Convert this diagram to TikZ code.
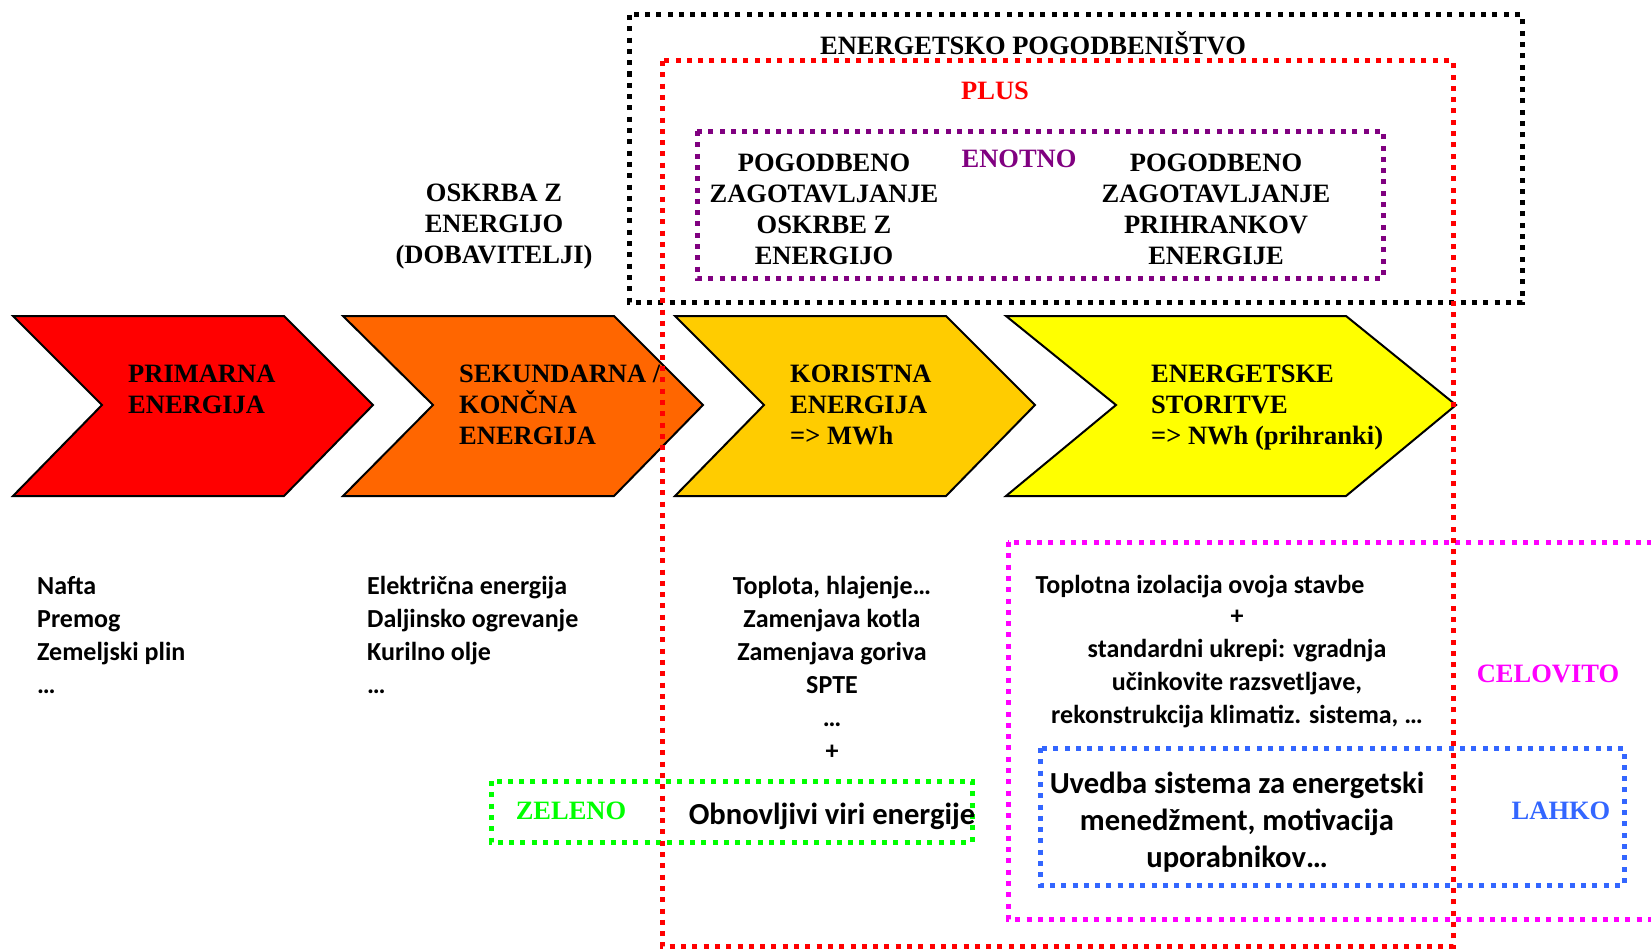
\documentclass[tikz,border=0pt]{standalone}
\usepackage{fontspec}
\setmainfont{Liberation Serif}
\newfontfamily\calfont{Carlito}
\usetikzlibrary{positioning}
\definecolor{chevred}{HTML}{FF0000}
\definecolor{chevorange}{HTML}{FF6600}
\definecolor{chevgold}{HTML}{FFCC00}
\definecolor{chevyellow}{HTML}{FFFF00}
\definecolor{boxpurple}{HTML}{800080}
\definecolor{boxgreen}{HTML}{00FF00}
\definecolor{boxmagenta}{HTML}{FF00FF}
\definecolor{boxblue}{HTML}{3366FF}

\begin{document}
\begin{tikzpicture}[x=1pt,y=-1pt,
  every node/.style={inner sep=0pt},
  chevron/.style={draw=black,line width=2pt,line join=miter},
  dotbox/.style={line width=5pt,dash pattern=on 5pt off 6.3pt},
  headtxt/.style={font=\fontsize{26.5}{31}\selectfont\bfseries,align=center},
  chevtxt/.style={font=\fontsize{26.5}{31}\selectfont\bfseries,align=left,anchor=west},
  listtxt/.style={font=\calfont\fontsize{26}{33}\selectfont\bfseries,align=left,anchor=north west},
  midtxt/.style={font=\calfont\fontsize{26}{33}\selectfont\bfseries,align=center},
  bigtxt/.style={font=\calfont\fontsize{30.6}{37}\selectfont\bfseries,align=center}]
\useasboundingbox (0,0) rectangle (1651,950);
\clip (0,0) rectangle (1651,950);

% chevrons
\filldraw[chevron,fill=chevred] (13,316) -- (284,316) -- (373,405) -- (284,496) -- (13,496) -- (102,405) -- cycle;
\filldraw[chevron,fill=chevorange] (343,316) -- (614,316) -- (703,405) -- (614,496) -- (343,496) -- (433,405) -- cycle;
\filldraw[chevron,fill=chevgold] (675,316) -- (946,316) -- (1035,405) -- (946,496) -- (675,496) -- (764,405) -- cycle;
\filldraw[chevron,fill=chevyellow] (1006,316) -- (1346,316) -- (1456,405) -- (1346,496) -- (1006,496) -- (1116,405) -- cycle;

\node[chevtxt] (prim) at (128,389) {PRIMARNA\\ENERGIJA};
\node[chevtxt] (sek) at (459,405) {SEKUNDARNA /\\KONČNA\\ENERGIJA};
\node[chevtxt] (kor) at (790,405) {KORISTNA\\ENERGIJA\\=> MWh};
\node[chevtxt] (stor) at (1151,408) {ENERGETSKE\\STORITVE\\=> NWh (prihranki)};

% top part
\node[headtxt] (oskrba) at (494,227) {OSKRBA Z\\ENERGIJO\\(DOBAVITELJI)};
\draw[dotbox,black] (629,15) rectangle (1522,302);
\node[headtxt] (pogodb) at (1033,43) {ENERGETSKO POGODBENIŠTVO};
\node[headtxt,text=chevred] (plus) at (995,91) {PLUS};
\draw[dotbox,boxpurple] (697,131) rectangle (1383,278);
\node[headtxt,text=boxpurple] (enotno) at (1019,159) {ENOTNO};
\node[headtxt] (oskpog) at (824,209) {POGODBENO\\ZAGOTAVLJANJE\\OSKRBE Z\\ENERGIJO};
\node[headtxt] (prihpog) at (1216,209) {POGODBENO\\ZAGOTAVLJANJE\\PRIHRANKOV\\ENERGIJE};

% lists
\node[listtxt] (primlist) at (37,576) {Nafta\\Premog\\Zemeljski plin\\…};
\node[listtxt] (seklist) at (367,576) {Električna energija\\Daljinsko ogrevanje\\Kurilno olje\\…};
\node[midtxt] (korlist) at (832,668) {Toplota, hlajenje…\\Zamenjava kotla\\Zamenjava goriva\\SPTE\\…\\+};

\draw[dotbox,boxgreen] (491,781) rectangle (972,842);
\node[headtxt,text=boxgreen] (zeleno) at (571,811) {ZELENO};
\node[bigtxt] (obnov) at (832,816) {Obnovljivi viri energije};

\draw[dotbox,boxmagenta] (1008,542) rectangle (1665,919);
\node[midtxt] (izol) at (1200,587) {Toplotna izolacija ovoja stavbe};
\node[midtxt] (ukrepi) at (1237,669) {+\\standardni ukrepi: vgradnja\\učinkovite razsvetljave,\\rekonstrukcija klimatiz. sistema, …};
\node[headtxt,text=boxmagenta] (celovito) at (1548,674) {CELOVITO};

\draw[dotbox,boxblue] (1040,748) rectangle (1624,885);
\node[bigtxt] (uvedba) at (1237,822) {Uvedba sistema za energetski\\menedžment, motivacija\\uporabnikov…};
\node[headtxt,text=boxblue] (lahko) at (1561,811) {LAHKO};

\draw[dotbox,chevred] (662,61) rectangle (1453,946);
\end{tikzpicture}
\end{document}
